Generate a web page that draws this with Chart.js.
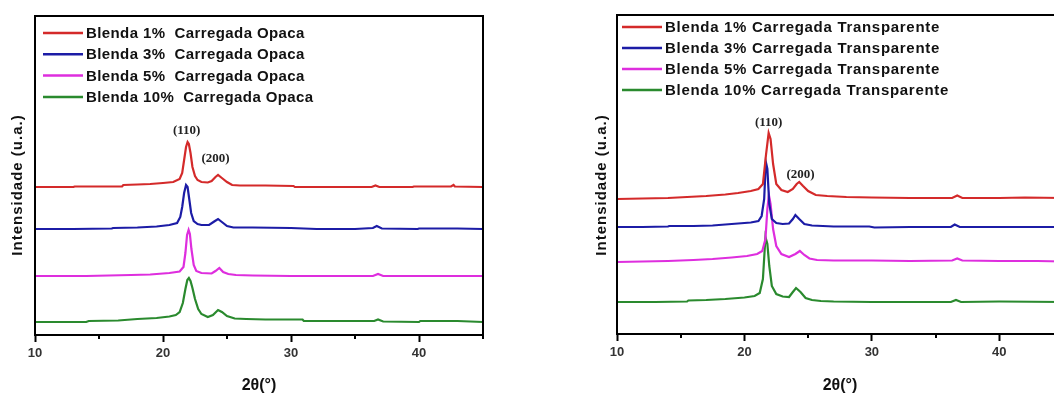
<!DOCTYPE html>
<html>
<head>
<meta charset="utf-8">
<script src="https://cdn.jsdelivr.net/npm/chart.js@4.4.0/dist/chart.umd.min.js"></script>
<style>
  html, body { margin: 0; padding: 0; background: #fff; overflow: hidden; width: 1054px; height: 394px; }
  .panel { position: absolute; top: 0; height: 394px; }
  #left { left: 0; width: 500px; }
  #right { left: 520px; width: 560px; }
</style>
</head>
<body>
<div class="panel" id="left"><canvas id="opaca" width="500" height="394"></canvas></div>
<div class="panel" id="right"><canvas id="transparente" width="560" height="394"></canvas></div>
<script>
// ---- left panel: blends filled, opaque (intensities in a.u., stacked) ----
var opaca1Theta = [10, 11.5, 13, 13.1, 15, 16.8, 16.9, 18, 19, 20, 20.8, 21.3, 21.5, 21.65, 21.8, 21.92, 22.02, 22.15, 22.3, 22.5, 22.7, 23.0, 23.5, 23.8, 24.1, 24.3, 24.6, 25.0, 25.4, 26, 28, 30.2, 30.3, 33, 36.3, 36.6, 36.9, 39.5, 39.6, 42.5, 42.7, 42.8, 45];
var opaca1Int   = [148, 148, 148, 148.5, 148.5, 148.5, 150, 150.5, 151, 152, 153, 156, 162, 175, 188, 193, 191, 182, 168, 159, 155, 153, 152.5, 154, 158, 160, 157, 153, 150, 149.5, 149.5, 149, 148, 148, 148, 149.5, 148, 148, 148.5, 148.5, 150, 148.5, 148];
var opaca3Theta = [10, 13, 16, 16.1, 18, 19.5, 20.5, 21.1, 21.35, 21.5, 21.65, 21.8, 21.92, 22.05, 22.2, 22.4, 22.7, 23.0, 23.6, 24.0, 24.3, 24.6, 25.0, 25.5, 27, 30, 32, 35, 36.4, 36.7, 37.1, 39.9, 40, 43, 45];
var opaca3Int   = [106, 106, 106.5, 107, 107.5, 108.5, 110, 112, 118, 128, 142, 150, 148, 136, 122, 114, 111, 110, 110, 113.5, 116, 113, 109, 107.5, 107.5, 107, 106, 106, 107, 109, 106.5, 106, 106.5, 106.5, 106];
var opaca5Theta = [10, 14, 17.5, 19, 20.5, 21.3, 21.6, 21.75, 21.88, 22.0, 22.1, 22.22, 22.4, 22.6, 23.0, 23.8, 24.1, 24.4, 24.7, 25.1, 25.7, 27, 30, 36.4, 36.8, 37.2, 40, 45];
var opaca5Int   = [59, 59, 60, 60.5, 62, 63.5, 68, 82, 100, 105, 101, 86, 70, 64, 62, 61.5, 64, 67, 63, 61, 60, 59.5, 59, 59, 61, 59, 59, 59];
var opaca10Theta = [10, 14, 14.2, 16.5, 18, 19.5, 20.5, 21.0, 21.3, 21.55, 21.75, 21.9, 22.02, 22.15, 22.3, 22.5, 22.75, 23.0, 23.5, 23.9, 24.3, 24.6, 25.0, 25.6, 26.5, 28, 30.9, 31, 35, 36.5, 36.8, 37.2, 40, 40.1, 43, 45];
var opaca10Int   = [13, 13, 14, 14.5, 16, 17, 18.5, 20, 23, 32, 46, 55, 57, 54, 47, 36, 26, 21, 18, 20, 25, 23, 19, 16.5, 16, 15.5, 15.5, 14, 14, 14, 15.5, 13.5, 13, 14, 14, 13];
var opacaLabels = ['Blenda 1%  Carregada Opaca', 'Blenda 3%  Carregada Opaca', 'Blenda 5%  Carregada Opaca', 'Blenda 10%  Carregada Opaca'];
var opacaPeakText  = ['(110)', '(200)'];
var opacaPeakTheta = [21.85, 24.1];
var opacaPeakInt   = [204, 176];

// ---- right panel: blends filled, transparent ----
var transp1Theta = [10, 12, 14, 15.5, 17, 18.5, 19.5, 20.5, 21.1, 21.45, 21.7, 21.9, 22.05, 22.25, 22.5, 22.9, 23.4, 23.8, 24.1, 24.3, 24.6, 25.0, 25.6, 26.5, 28, 30, 33, 36.3, 36.7, 37.1, 40, 42, 45];
var transp1Int   = [135, 135.5, 136, 137, 138, 139.5, 141, 143, 145, 150, 180, 201, 195, 170, 150, 144, 142, 145, 150, 152, 148, 143, 139, 138, 137, 136.5, 136, 136, 138.5, 136, 136, 136.5, 136];
var transp3Theta = [10, 12, 14, 14.1, 16, 17.5, 19, 20.5, 21.1, 21.35, 21.55, 21.68, 21.8, 21.95, 22.15, 22.5, 23.0, 23.5, 23.8, 24.0, 24.3, 24.7, 25.3, 27, 29.8, 30.2, 33, 36.2, 36.5, 36.9, 40, 45];
var transp3Int   = [107, 107, 107.5, 108, 108, 108.5, 110, 111.5, 113, 118, 135, 172, 165, 130, 115, 111, 110, 110.5, 115, 119, 115, 110, 108.5, 107.5, 107.5, 106.5, 107, 107, 109.5, 107, 107, 107];
var transp5Theta = [10, 12, 14, 16, 17.5, 19, 20.2, 21.0, 21.4, 21.65, 21.8, 21.92, 22.05, 22.25, 22.5, 22.9, 23.5, 24.0, 24.35, 24.7, 25.1, 25.7, 27, 30, 33, 36.3, 36.7, 37.1, 40, 43, 45];
var transp5Int   = [72, 72.5, 73, 74, 75, 76.5, 78, 80, 83, 95, 125, 139, 130, 105, 88, 80, 77, 80, 83, 79, 75.5, 74, 73.5, 73.5, 73, 73.5, 75.5, 73.5, 73, 73, 72.5];
var transp10Theta = [10, 13, 15.5, 15.6, 17, 18.5, 20, 20.8, 21.2, 21.45, 21.65, 21.8, 21.95, 22.15, 22.5, 23.0, 23.5, 23.8, 24.05, 24.4, 24.8, 25.3, 26, 27, 30, 33, 36.2, 36.6, 37, 40, 45];
var transp10Int   = [32, 32, 32.5, 33.5, 34, 35, 36.5, 38, 41, 55, 97, 90, 68, 48, 40, 37.5, 37, 42, 46, 42, 36, 34, 33, 32.5, 32, 32, 32, 34, 32, 32.5, 32];
var transpLabels = ['Blenda 1% Carregada Transparente', 'Blenda 3% Carregada Transparente', 'Blenda 5% Carregada Transparente', 'Blenda 10% Carregada Transparente'];
var transpPeakText  = ['(110)', '(200)'];
var transpPeakTheta = [21.9, 24.4];
var transpPeakInt   = [211, 159];

var xTicksMajor = [10, 20, 30, 40];
var xTicksMinor = [15, 25, 35, 45];
var colors = ['#d42a2a', '#1c1ca6', '#de2ede', '#2a8a2e'];

function points(xs, ys) {
    return xs.map(function(x, i) { return {x: x, y: ys[i]}; });
}

var decor = {
    id: 'decor',
    afterDraw: function(chart, args, o) {
        var ctx = chart.ctx, a = chart.chartArea;
        var xs = chart.scales.x, ys = chart.scales.y;
        ctx.save();
        // frame round the plot
        ctx.strokeStyle = '#000';
        ctx.lineWidth = 2;
        ctx.strokeRect(a.left, a.top, a.right - a.left, a.bottom - a.top);
        // minor ticks
        xTicksMinor.forEach(function(v) {
            var px = Math.round(xs.getPixelForValue(v));
            ctx.beginPath();
            ctx.moveTo(px, a.bottom);
            ctx.lineTo(px, a.bottom + 4);
            ctx.stroke();
        });
        // legend inside the frame
        ctx.font = 'bold 15px "Liberation Sans", Arial, sans-serif';
        ctx.letterSpacing = o.legendSpacing;
        ctx.textBaseline = 'middle';
        ctx.textAlign = 'left';
        chart.data.datasets.forEach(function(ds, i) {
            var y = a.top + o.legendTop + i * o.legendGap;
            var x0 = a.left + o.legendLeft;
            ctx.strokeStyle = ds.borderColor;
            ctx.lineWidth = 2.5;
            ctx.beginPath();
            ctx.moveTo(x0, y);
            ctx.lineTo(x0 + 40, y);
            ctx.stroke();
            ctx.fillStyle = '#111';
            ctx.fillText(ds.label, x0 + 43, y + 1);
        });
        // peak labels
        ctx.letterSpacing = '0px';
        ctx.font = 'bold 13px "Liberation Serif", "Times New Roman", serif';
        ctx.textAlign = 'center';
        ctx.fillStyle = '#222';
        o.peakText.forEach(function(t, i) {
            ctx.fillText(t, xs.getPixelForValue(o.peakTheta[i]), ys.getPixelForValue(o.peakInt[i]));
        });
        // y title
        ctx.font = 'bold 15px "Liberation Sans", Arial, sans-serif';
        ctx.letterSpacing = '1px';
        ctx.translate(o.yTitleX, o.yTitleY);
        ctx.rotate(-Math.PI / 2);
        ctx.fillStyle = '#111';
        ctx.fillText('Intensidade (u.a.)', 0, 0);
        ctx.restore();
    }
};

function makeChart(id, thetas, ints, labels, peakText, peakTheta, peakInt, pad, yTitleX) {
    var datasets = labels.map(function(lab, i) {
        return {
            label: lab,
            data: points(thetas[i], ints[i]),
            borderColor: colors[i],
            borderWidth: 2.2,
            pointRadius: 0,
            tension: 0,
            fill: false
        };
    });
    return new Chart(document.getElementById(id).getContext('2d'), {
        type: 'line',
        data: { datasets: datasets },
        plugins: [decor],
        options: {
            responsive: false,
            animation: false,
            layout: { padding: { left: pad.left, right: pad.right, top: pad.top, bottom: 0 } },
            scales: {
                x: {
                    type: 'linear',
                    min: 10,
                    max: 45,
                    afterFit: function(scale) { scale.height = pad.axisH; },
                    afterBuildTicks: function(scale) {
                        scale.ticks = xTicksMajor.concat(xTicksMinor).sort(function(p, q) { return p - q; })
                            .map(function(v) { return {value: v}; });
                    },
                    border: { display: true, color: '#000', width: 2 },
                    grid: {
                        drawOnChartArea: false,
                        drawTicks: true,
                        tickLength: 7,
                        tickWidth: 2,
                        tickColor: function(c) {
                            return xTicksMajor.indexOf(c.tick.value) >= 0 ? '#000' : 'rgba(0,0,0,0)';
                        }
                    },
                    ticks: {
                        autoSkip: false,
                        maxRotation: 0,
                        padding: 4,
                        color: '#333',
                        font: { family: '"Liberation Sans", Arial, sans-serif', size: 13, weight: 'bold' },
                        callback: function(v) { return xTicksMajor.indexOf(v) >= 0 ? String(v) : ''; }
                    },
                    title: {
                        display: true,
                        text: '2θ(°)',
                        color: '#111',
                        padding: { top: 0, bottom: 0 },
                        font: { family: '"Liberation Sans", Arial, sans-serif', size: 16, weight: 'bold', lineHeight: 1 }
                    }
                },
                y: {
                    display: false,
                    min: 0,
                    max: 319
                }
            },
            plugins: {
                legend: { display: false },
                tooltip: { enabled: false },
                decor: {
                    legendLeft: pad.legendLeft,
                    legendTop: pad.legendTop,
                    legendGap: pad.legendGap,
                    legendSpacing: pad.legendSpacing,
                    peakText: peakText,
                    peakTheta: peakTheta,
                    peakInt: peakInt,
                    yTitleX: yTitleX,
                    yTitleY: 185
                }
            }
        }
    });
}

makeChart('opaca',
    [opaca1Theta, opaca3Theta, opaca5Theta, opaca10Theta],
    [opaca1Int, opaca3Int, opaca5Int, opaca10Int],
    opacaLabels, opacaPeakText, opacaPeakTheta, opacaPeakInt,
    { left: 35, right: 17, top: 16, axisH: 59, legendLeft: 8, legendTop: 17, legendGap: 21.3, legendSpacing: '0.4px' }, 18);

makeChart('transparente',
    [transp1Theta, transp3Theta, transp5Theta, transp10Theta],
    [transp1Int, transp3Int, transp5Int, transp10Int],
    transpLabels, transpPeakText, transpPeakTheta, transpPeakInt,
    { left: 97, right: 17, top: 15, axisH: 60, legendLeft: 5, legendTop: 12, legendGap: 21, legendSpacing: '0.7px' }, 82);
</script>
</body>
</html>
